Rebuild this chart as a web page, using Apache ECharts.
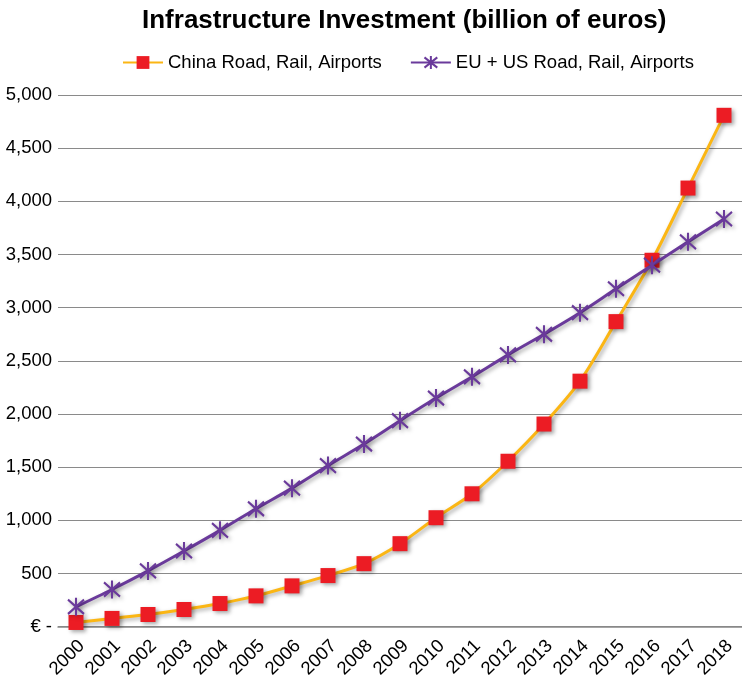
<!DOCTYPE html>
<html>
<head>
<meta charset="utf-8">
<script src="https://cdn.jsdelivr.net/npm/echarts@6/dist/echarts.min.js"></script>
<style>
  html, body { margin: 0; padding: 0; background: #fff; }
  #chart { width: 742px; height: 681px; }
</style>
</head>
<body>
<div id="chart"></div>
<script>
// Years on the category axis
const years = ['2000','2001','2002','2003','2004','2005','2006','2007','2008','2009',
               '2010','2011','2012','2013','2014','2015','2016','2017','2018'];

// Investment, billion of euros
const chinaValues = [40, 78, 115, 162, 218, 290, 384, 481, 593, 781,
                     1025, 1250, 1556, 1906, 2309, 2869, 3446, 4125, 4809];
const euUsValues  = [187, 350, 525, 712, 906, 1109, 1303, 1515, 1718, 1937,
                     2150, 2350, 2556, 2750, 2953, 3178, 3400, 3619, 3834];

const seriesNames = ['China Road, Rail, Airports', 'EU + US Road, Rail, Airports'];

const FONT = '"Liberation Sans", Arial, Helvetica, sans-serif';
const shadow = { shadowBlur: 4, shadowColor: 'rgba(0,0,0,0.35)', shadowOffsetX: 2, shadowOffsetY: 2 };

// Six-armed asterisk marker
const starPath = 'path://M2,2 L18,18 M2,18 L18,2 M10,0 L10,20';

const chart = echarts.init(document.getElementById('chart'), null, { renderer: 'canvas' });

chart.setOption({
  animation: false,
  backgroundColor: '#ffffff',
  title: {
    text: 'Infrastructure Investment (billion of euros)',
    left: 137,
    top: 3,
    textStyle: { fontFamily: FONT, fontSize: 26, fontWeight: 'bold', color: '#000' }
  },
  legend: {
    data: seriesNames,
    left: 117,
    top: 48,
    itemWidth: 40,
    itemHeight: 16,
    itemGap: 28,
    textStyle: { fontFamily: FONT, fontSize: 18.5, color: '#000' }
  },
  grid: { left: 58, top: 95, width: 690, bottom: 53, containLabel: false },
  xAxis: {
    type: 'category',
    data: years,
    boundaryGap: true,
    axisLine: { show: true, lineStyle: { color: '#888', width: 1.5 } },
    axisTick: { show: false },
    axisLabel: {
      rotate: 45,
      margin: 22,
      padding: [0, -8, 0, 0],
      fontFamily: FONT,
      fontSize: 18.5,
      color: '#000'
    }
  },
  yAxis: {
    type: 'value',
    min: 0,
    max: 5000,
    interval: 500,
    axisLine: { show: false },
    axisTick: { show: false },
    axisLabel: {
      margin: 6,
      fontFamily: FONT,
      fontSize: 18.5,
      color: '#000',
      formatter: v => v === 0 ? '€ -' : v.toLocaleString('en-US')
    },
    splitLine: { lineStyle: { color: '#8a8a8a', width: 1.2 } }
  },
  series: [
    {
      name: seriesNames[0],
      type: 'line',
      data: chinaValues,
      smooth: 0.3,
      symbol: 'rect',
      symbolSize: 15,
      lineStyle: Object.assign({ color: '#fbb614', width: 3 }, shadow),
      itemStyle: Object.assign({ color: '#ec1c24' }, shadow),
      z: 2
    },
    {
      name: seriesNames[1],
      type: 'line',
      data: euUsValues,
      smooth: 0.3,
      symbol: starPath,
      symbolSize: [16, 18],
      lineStyle: Object.assign({ color: '#6a3a9b', width: 3 }, shadow),
      itemStyle: Object.assign({ color: '#6a3a9b', borderColor: '#6a3a9b', borderWidth: 2.2 }, shadow),
      z: 3
    }
  ]
});
</script>
</body>
</html>
